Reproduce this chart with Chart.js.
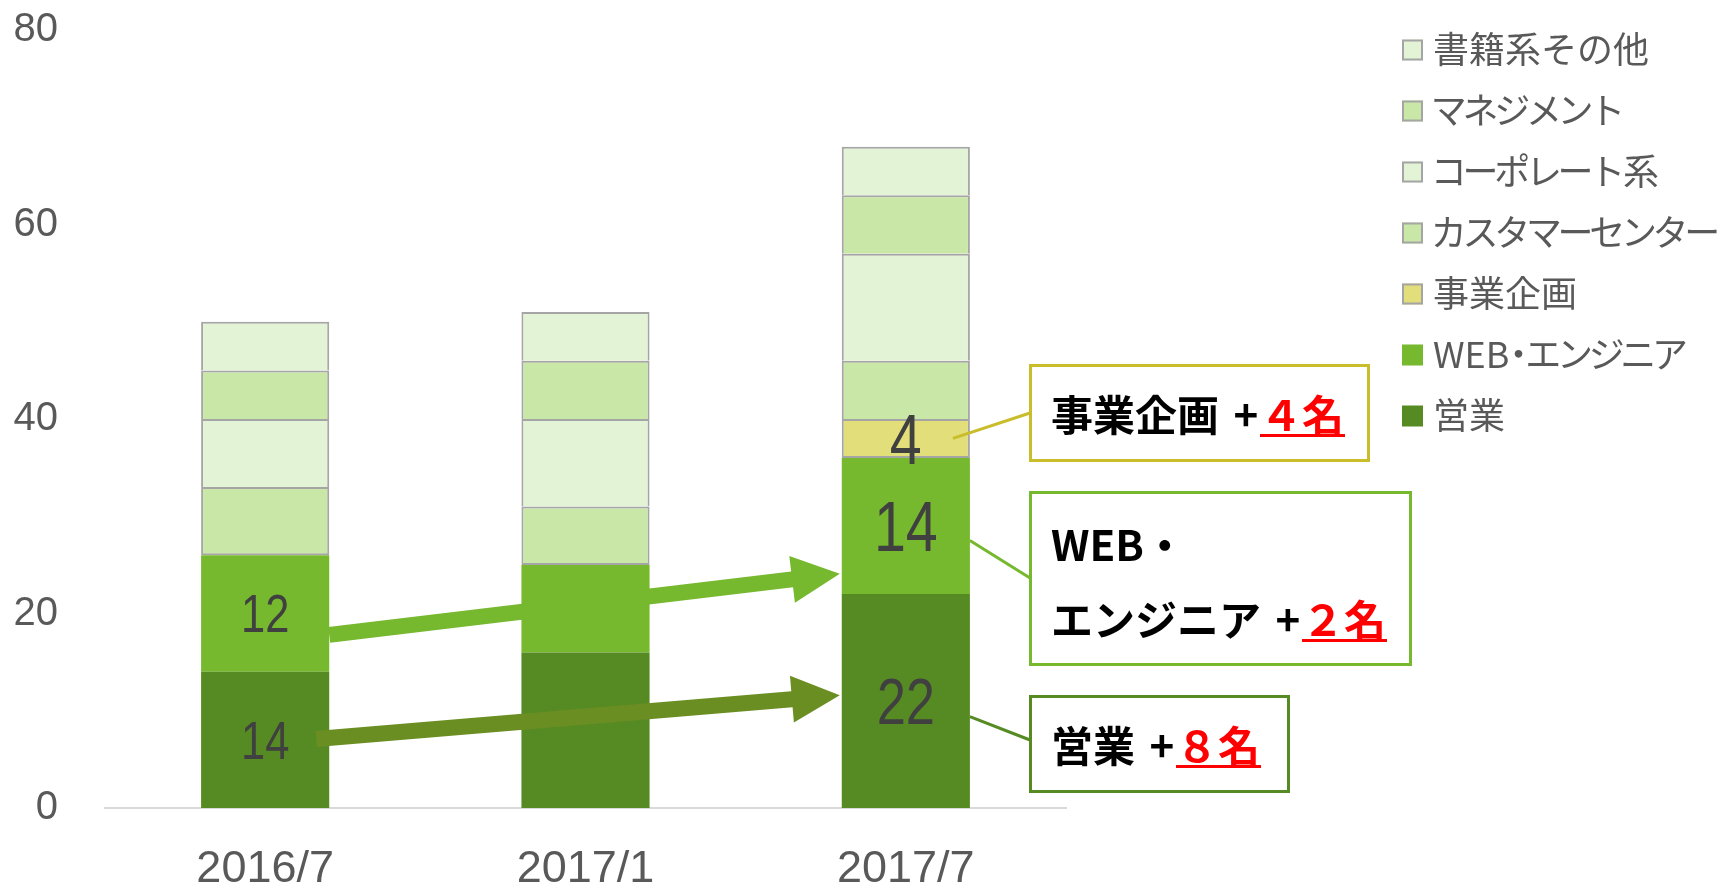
<!DOCTYPE html>
<html lang="ja">
<head>
<meta charset="utf-8">
<title>職種別人数の推移</title>
<script src="https://cdn.jsdelivr.net/npm/chart.js@4.4.1/dist/chart.umd.min.js"></script>
<style>
  html, body { margin: 0; padding: 0; background: #fff; }
  #wrap { width: 1730px; height: 890px; }
</style>
</head>
<body>
<div id="wrap"><canvas id="staffChart" width="1730" height="890"></canvas></div>
<script>
// --- data (bottom of the stack first) ---
const categories = ['2016/7', '2017/1', '2017/7'];
const eigyo = [14, 16, 22];
const webEngineer = [12, 9, 14];
const jigyoKikaku = [null, null, 4];
const customerCenter = [7, 6, 6];
const corporate = [7, 9, 11];
const management = [5, 6, 6];
const shosekiOther = [5, 5, 5];
const yTicks = [0, 20, 40, 60, 80];

// --- styles ---
const colEigyo = '#568B24';
const colWeb = '#76B82E';
const colKikaku = '#E2DE7A';
const colMid = '#C9E8A7';
const colLight = '#E3F3D6';
const colEdge = '#A5A5A5';
const textGray = '#595959';
const jpFont = '"Noto Sans CJK JP", "Noto Sans", sans-serif';
const numFont = '"Liberation Sans", Arial, sans-serif';

function barSet(label, data, color, edge, skipped) {
    return {
        label: label,
        data: data,
        backgroundColor: color,
        borderColor: edge || color,
        borderWidth: edge ? 2 : 0,
        borderSkipped: skipped === undefined ? 'start' : skipped,
        categoryPercentage: 1,
        barPercentage: 0.4
    };
}

const datasets = [
    barSet('営業', eigyo, colEigyo),
    barSet('WEB・エンジニア', webEngineer, colWeb),
    barSet('事業企画', jigyoKikaku, colKikaku, colEdge, false),
    barSet('カスタマーセンター', customerCenter, colMid, colEdge, ctx => jigyoKikaku[ctx.dataIndex] ? 'start' : false),
    barSet('コーポレート系', corporate, colLight, colEdge),
    barSet('マネジメント', management, colMid, colEdge),
    barSet('書籍系その他', shosekiOther, colLight, colEdge)
];

// values printed inside segments: [dataset, category, font size]
const barLabels = [[0, 0, 53], [1, 0, 53], [0, 2, 64], [1, 2, 70], [2, 2, 70]];

// growth arrows drawn between the first and last bar
const arrows = [
    { color: colWeb, fromValue: 17.8, toValue: 24.1, fromInset: 0 },
    { color: '#6B8E23', fromValue: 7.1, toValue: 11.6, fromInset: 13 }
];

// callout boxes on the right of the last bar
const callouts = [
    { ds: 2, lines: ['事業企画'], color: '#C9BD2B', box: [1029, 364, 341, 98], anchorValue: 38, anchorInset: 17, joinY: 413 },
    { ds: 1, lines: ['WEB・', 'エンジニア'], color: colWeb, box: [1029, 491, 383, 175], anchorValue: 27.5, anchorInset: 0, joinY: 578 },
    { ds: 0, lines: ['営業'], color: colEigyo, box: [1029, 695, 261, 98], anchorValue: 9.4, anchorInset: 0, joinY: 740 }
];

function fullWidth(n) {
    return String(n).split('').map(c => String.fromCharCode(0xFF10 + Number(c))).join('');
}

// kana drawn a bit tighter, like a proportional Japanese UI font
function drawTight(ctx, text, x, y) {
    for (const ch of text) {
        const w = ctx.measureText(ch).width;
        let adv = w;
        if (ch === '・') adv = w * 0.5;
        else if (/[\u30A0-\u30FF]/.test(ch)) adv = w * 0.88;
        ctx.fillText(ch, x - (w - adv) / 2, y);
        x += adv;
    }
}

function drawArrow(ctx, x1, y1, x2, y2, shaft, headW, headL, color) {
    const ang = Math.atan2(y2 - y1, x2 - x1);
    const len = Math.hypot(x2 - x1, y2 - y1);
    ctx.save();
    ctx.translate(x1, y1);
    ctx.rotate(ang);
    ctx.fillStyle = color;
    ctx.beginPath();
    ctx.moveTo(0, -shaft / 2);
    ctx.lineTo(len - headL, -shaft / 2);
    ctx.lineTo(len - headL, -headW / 2);
    ctx.lineTo(len, 0);
    ctx.lineTo(len - headL, headW / 2);
    ctx.lineTo(len - headL, shaft / 2);
    ctx.lineTo(0, shaft / 2);
    ctx.closePath();
    ctx.fill();
    ctx.restore();
}

const annotations = {
    id: 'annotations',
    afterDatasetsDraw(chart) {
        const ctx = chart.ctx;
        const y = chart.scales.y;
        const last = categories.length - 1;

        // numbers inside the bars (narrow look)
        barLabels.forEach(([ds, i, size]) => {
            const bar = chart.getDatasetMeta(ds).data[i];
            const cy = (bar.y + bar.base) / 2;
            ctx.save();
            ctx.translate(bar.x, cy + size * 0.358);
            ctx.scale(0.82, 1);
            ctx.font = size + 'px ' + numFont;
            ctx.fillStyle = '#404040';
            ctx.textAlign = 'center';
            ctx.textBaseline = 'alphabetic';
            ctx.fillText(String(chart.data.datasets[ds].data[i]), 0, 0);
            ctx.restore();
        });

        // arrows
        arrows.forEach(a => {
            const b0 = chart.getDatasetMeta(0).data[0];
            const b2 = chart.getDatasetMeta(0).data[last];
            const x1 = b0.x + b0.width / 2 - a.fromInset;
            const x2 = b2.x - b2.width / 2 - 2;
            drawArrow(ctx, x1, y.getPixelForValue(a.fromValue), x2, y.getPixelForValue(a.toValue), 16, 47, 48, a.color);
        });

        // callouts
        callouts.forEach(c => {
            const bar = chart.getDatasetMeta(c.ds).data[last];
            const [bx, by, bw, bh] = c.box;
            ctx.save();
            ctx.strokeStyle = c.color;
            ctx.lineWidth = 3;
            ctx.beginPath();
            ctx.moveTo(bar.x + bar.width / 2 - c.anchorInset, y.getPixelForValue(c.anchorValue));
            ctx.lineTo(bx + 1, c.joinY);
            ctx.stroke();
            ctx.fillStyle = '#fff';
            ctx.fillRect(bx, by, bw, bh);
            ctx.strokeRect(bx + 1.5, by + 1.5, bw - 3, bh - 3);

            const d = chart.data.datasets[c.ds].data;
            const gain = (d[last] || 0) - (d[0] || 0);
            const red = fullWidth(gain) + '名';
            ctx.font = 'bold 42px ' + jpFont;
            ctx.textBaseline = 'middle';
            ctx.textAlign = 'left';
            ctx.fillStyle = '#000';
            const tx = bx + 22;
            let cy;
            if (c.lines.length === 1) {
                cy = by + bh / 2 + 2;
            } else {
                ctx.fillText(c.lines[0], tx, by + 54);
                cy = by + 129;
            }
            const name = c.lines[c.lines.length - 1];
            ctx.fillText(name, tx, cy);
            const nameEnd = tx + ctx.measureText(name).width;
            ctx.textAlign = 'center';
            ctx.fillText('+', nameEnd + 27, cy);
            ctx.textAlign = 'left';
            ctx.fillStyle = '#FF0000';
            const rx = nameEnd + 41;
            ctx.fillText(red, rx, cy);
            const rw = ctx.measureText(red).width;
            ctx.fillRect(rx, cy + 19, rw + 1, 3);
            ctx.restore();
        });

        // legend, top entry is the top of the stack
        ctx.save();
        ctx.font = '36px ' + jpFont;
        ctx.textBaseline = 'middle';
        ctx.textAlign = 'left';
        const items = chart.data.datasets.slice().reverse();
        items.forEach((ds, k) => {
            const cy = 50 + k * 61;
            ctx.fillStyle = ds.backgroundColor;
            ctx.fillRect(1402, cy - 10.5, 21, 21);
            if (ds.borderWidth) {
                ctx.strokeStyle = colEdge;
                ctx.lineWidth = 2;
                ctx.strokeRect(1403, cy - 9.5, 19, 19);
            }
            ctx.fillStyle = textGray;
            drawTight(ctx, ds.label, 1433, cy - 1);
        });
        ctx.restore();
    }
};

new Chart(document.getElementById('staffChart'), {
    type: 'bar',
    data: { labels: categories, datasets: datasets },
    options: {
        responsive: false,
        animation: false,
        devicePixelRatio: 1,
        layout: { padding: { left: 0, right: 664, top: 30, bottom: 0 } },
        plugins: {
            legend: { display: false },
            tooltip: { enabled: false }
        },
        scales: {
            x: {
                stacked: true,
                grid: { display: false, drawTicks: true, tickLength: 35, color: 'rgba(0,0,0,0)' },
                border: { display: true, color: '#D9D9D9', width: 2 },
                ticks: { color: textGray, font: { family: numFont, size: 45 }, padding: 0 },
                afterFit: s => { s.height = 82; }
            },
            y: {
                stacked: true,
                min: 0,
                max: 80,
                grid: { display: false, drawTicks: true, tickLength: 47, color: 'rgba(0,0,0,0)' },
                border: { display: false },
                ticks: { color: textGray, font: { family: numFont, size: 40 }, padding: 0 },
                afterBuildTicks: s => { s.ticks = yTicks.map(v => ({ value: v })); },
                afterFit: s => { s.width = 105; }
            }
        }
    },
    plugins: [annotations]
});
</script>
</body>
</html>
